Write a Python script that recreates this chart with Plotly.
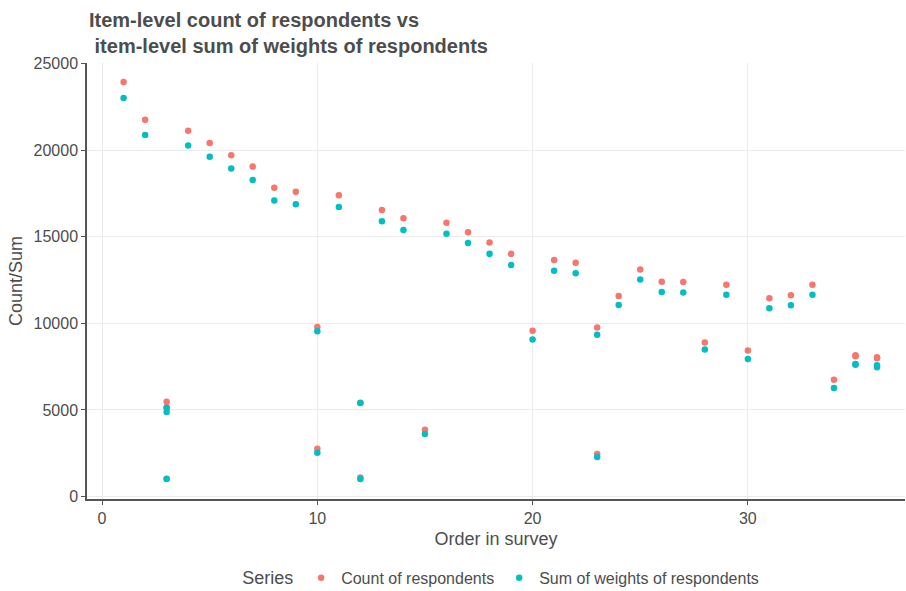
import plotly.graph_objects as go

# Order in survey for each item
order = [1, 2, 3, 3, 3, 4, 5, 6, 7, 8, 9, 10, 10, 11, 12, 12, 13, 14, 15, 16,
         17, 18, 19, 20, 21, 22, 23, 23, 24, 25, 26, 27, 28, 29, 30, 31, 32,
         33, 34, 35, 35, 36, 36]
# Item-level count of respondents
count_resp = [23950, 21760, 5480, 5150, 1020, 21130, 20420, 19720, 19060, 17840,
              17610, 9790, 2760, 17410, 5420, 1100, 16550, 16070, 3860, 15820,
              15260, 14680, 14020, 9570, 13660, 13500, 9770, 2460, 11590, 13120,
              12400, 12390, 8890, 12230, 8430, 11460, 11630, 12230, 6750, 8160,
              8100, 8050, 7980]
# Item-level sum of weights of respondents
sum_weights = [23020, 20880, 5110, 4880, 1010, 20280, 19630, 18950, 18290, 17100,
               16880, 9550, 2530, 16720, 5400, 1010, 15900, 15390, 3610, 15180,
               14640, 14020, 13370, 9070, 13040, 12900, 9350, 2285, 11060, 12540,
               11820, 11790, 8490, 11650, 7950, 10880, 11050, 11650, 6270, 7660,
               7610, 7580, 7470]

series_names = ["Count of respondents", "Sum of weights of respondents"]
series_colors = ["#F8766D", "#00BFC4"]

x_ticks = [0, 10, 20, 30]
y_ticks = [0, 5000, 10000, 15000, 20000, 25000]
y_tick_labels = ["0", "5000", "10000", "15000", "20000", "25000"]

font_family = "Liberation Sans, Arial, Helvetica, sans-serif"
text_col = "#4d4d4d"

fig = go.Figure()
for name, vals, col in zip(series_names, [count_resp, sum_weights], series_colors):
    fig.add_trace(go.Scatter(
        x=order, y=vals, mode="markers", name=name,
        marker=dict(color=col, size=6.5, line=dict(width=0)),
    ))

axis_common = dict(
    showgrid=True, gridcolor="#ebebeb", gridwidth=1,
    zeroline=False, showline=True, linecolor="#555555", linewidth=1.5,
    ticks="outside", ticklen=4, tickcolor="#555555", tickwidth=1.2,
    tickfont=dict(family=font_family, size=16, color=text_col),
    automargin=False,
)

fig.update_layout(
    width=906, height=591,
    paper_bgcolor="white", plot_bgcolor="white",
    margin=dict(l=87, r=1, t=63, b=92, autoexpand=False),
    font=dict(family=font_family, color=text_col),
    xaxis=dict(
        range=[-0.7, 37.3], tickvals=x_ticks,
        title=dict(text="Order in survey", font=dict(size=18, color=text_col), standoff=6),
        **axis_common,
    ),
    yaxis=dict(
        range=[-145, 25045], tickvals=y_ticks, ticktext=y_tick_labels,
        title=dict(text="Count/Sum", font=dict(size=18, color=text_col), standoff=6),
        **axis_common,
    ),
    legend=dict(
        orientation="h", x=0.5075, xanchor="center", y=-0.181, yanchor="middle",
        title=dict(text="Series", font=dict(size=18, color=text_col)),
        font=dict(size=16, color=text_col),
        itemsizing="trace",
    ),
    annotations=[dict(
        text="<b>Item-level count of respondents vs<br> item-level sum of weights of respondents</b>",
        xref="paper", yref="paper", x=0.0, y=1.128, xanchor="left", yanchor="top",
        align="left", showarrow=False,
        font=dict(family=font_family, size=20, color="#4d4d4d"),
    )],
)

fig.write_html(
    "out.html",
    config={"displayModeBar": False},
    post_script="document.body.style.margin='0';document.body.style.overflow='hidden';",
)
